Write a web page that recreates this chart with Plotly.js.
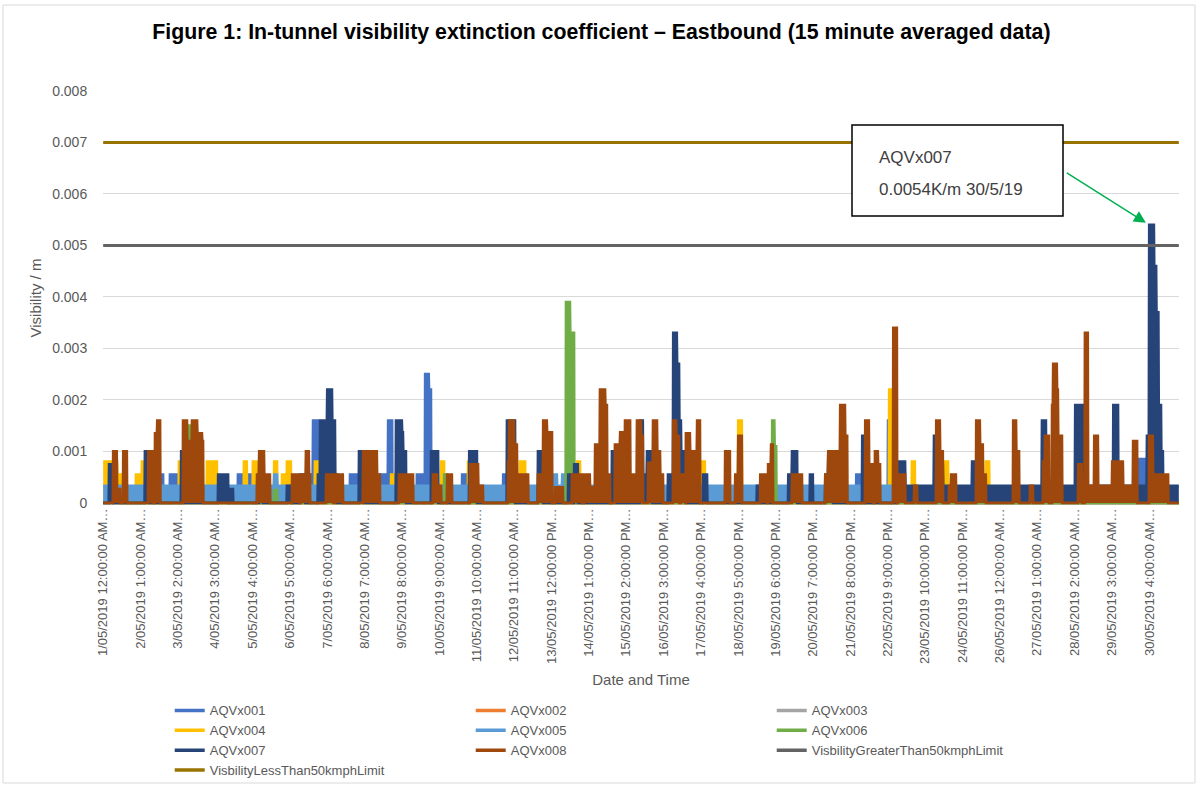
<!DOCTYPE html>
<html><head><meta charset="utf-8">
<script src="https://cdn.plot.ly/plotly-3.0.1.min.js"></script>
<style>html,body{margin:0;padding:0;background:#fff}#chart{width:1198px;height:786px}</style>
</head><body><div id="chart"></div>
<script>
// 15-minute averaged samples, 1/05/2019 00:00 onwards
const N = 2880;
const tickStep = 100;
const tickLabels = [
  "1/05/2019 12:00:00 AM","2/05/2019 1:00:00 AM","3/05/2019 2:00:00 AM","4/05/2019 3:00:00 AM",
  "5/05/2019 4:00:00 AM","6/05/2019 5:00:00 AM","7/05/2019 6:00:00 AM","8/05/2019 7:00:00 AM",
  "9/05/2019 8:00:00 AM","10/05/2019 9:00:00 AM","11/05/2019 10:00:00 AM","12/05/2019 11:00:00 AM",
  "13/05/2019 12:00:00 PM","14/05/2019 1:00:00 PM","15/05/2019 2:00:00 PM","16/05/2019 3:00:00 PM",
  "17/05/2019 4:00:00 PM","18/05/2019 5:00:00 PM","19/05/2019 6:00:00 PM","20/05/2019 7:00:00 PM",
  "21/05/2019 8:00:00 PM","22/05/2019 9:00:00 PM","23/05/2019 10:00:00 PM","24/05/2019 11:00:00 PM",
  "26/05/2019 12:00:00 AM","27/05/2019 1:00:00 AM","28/05/2019 2:00:00 AM","29/05/2019 3:00:00 AM",
  "30/05/2019 4:00:00 AM"
];

const seriesNames = ["AQVx001","AQVx002","AQVx003","AQVx004","AQVx005","AQVx006","AQVx007","AQVx008"];
const seriesColors = ["#4472C4","#ED7D31","#A5A5A5","#FFC000","#5B9BD5","#70AD47","#264478","#9E480E"];

// readings as [startSample, endSample, value] (value held over the run, 0 elsewhere)
const aqv001 = [[153,161,0.00055],[179,206,0.00055],[361,372,0.00055],[388,401,0.00055],[412,420,0.00055],
  [555,562,0.00055],[562,575,0.0016],[661,707,0.00055],[741,763,0.00055],[763,774,0.0016],[840,857,0.00055],
  [862,872,0.0025],[872,878,0.0022],[961,977,0.00055],[1071,1081,0.00055],[2016,2032,0.00055],
  [2101,2107,0.0016],[2770,2794,0.00085]];
const aqv002 = [];
const aqv003 = [];
const aqv004 = [[0,38,0.0008],[38,54,0.00055],[88,102,0.00055],[104,112,0.0008],[131,139,0.0008],[203,209,0.0008],
  [278,292,0.0008],[294,305,0.0008],[377,385,0.0008],[401,412,0.0008],[458,466,0.0008],[479,490,0.00055],
  [492,503,0.0008],[567,581,0.0008],[771,779,0.00055],[905,913,0.0008],[977,982,0.0008],[1116,1130,0.0008],
  [1269,1277,0.0008],[1603,1611,0.0008],[1700,1710,0.0016],[2104,2112,0.0022],[2165,2173,0.0008],
  [2243,2249,0.0008],[2254,2262,0.0008],[2363,2372,0.0008]];
const aqv005 = [[0,2147,0.00033],[458,466,0.00055],[1204,1215,0.00055],[1229,1239,0.00055]];
const aqv006 = [[225,236,0.0015],[458,466,0.00025],[913,921,0.00055],[1239,1250,0.0039],[1250,1261,0.0033],
  [1791,1797,0.0016],[1797,1802,0.0011]];
const aqv007 = [[16,27,0.00075],[112,126,0.001],[209,217,0.001],[308,335,0.00055],[340,348,0.00027],[418,428,0.001],
  [492,506,0.00033],[527,541,0.00055],[575,581,0.00055],[581,600,0.0016],[600,613,0.0022],[613,621,0.0016],
  [621,627,0.00055],[685,700,0.001],[784,800,0.0016],[800,803,0.00137],[803,811,0.001],[878,897,0.001],
  [980,1001,0.001],[1081,1103,0.0016],[1164,1178,0.001],[1245,1255,0.00055],[1261,1271,0.00075],
  [1362,1376,0.001],[1437,1445,0.0016],[1445,1456,0.00055],[1456,1469,0.001],[1512,1526,0.00055],
  [1526,1536,0.0033],[1536,1542,0.0027],[1542,1547,0.0016],[1547,1558,0.001],[1558,1563,0.00055],
  [1606,1617,0.00055],[1750,1759,0.00033],[1834,1844,0.00055],[1844,1858,0.001],[1892,1900,0.00055],
  [1933,1941,0.00055],[1941,1954,0.001],[2032,2040,0.0013],[2125,2147,0.0008],[2147,2880,0.00033],
  [2224,2232,0.0013],[2240,2248,0.00075],[2326,2334,0.0008],[2513,2524,0.0016],[2602,2623,0.0019],
  [2623,2628,0.0013],[2704,2717,0.0019],[2794,2800,0.0013],[2800,2813,0.0054],[2813,2819,0.0046],
  [2819,2825,0.0037],[2825,2832,0.0019],[2832,2837,0.001]];
const aqv008 = [[27,37,0.001],[37,46,0.00027],[54,64,0.001],[121,133,0.001],[139,145,0.00135],[145,153,0.0016],
  [214,268,0.0012],[214,225,0.0016],[238,252,0.0016],[252,265,0.00135],[412,447,0.00055],[418,431,0.001],
  [506,527,0.00055],[530,554,0.00055],[543,551,0.001],[597,616,0.00055],[621,642,0.00055],[696,733,0.001],
  [733,741,0.00055],[792,830,0.00055],[883,894,0.00055],[894,905,0.00033],[921,934,0.00055],[982,1004,0.00075],
  [1004,1017,0.00033],[1084,1087,0.0008],[1087,1100,0.0016],[1100,1108,0.00113],[1108,1138,0.00055],
  [1164,1178,0.00055],[1178,1188,0.0016],[1188,1202,0.00137],[1210,1231,0.0003],[1255,1283,0.00055],
  [1287,1303,0.00055],[1303,1317,0.0003],[1317,1330,0.00113],[1330,1344,0.0022],[1344,1349,0.0019],
  [1349,1357,0.00055],[1370,1384,0.00113],[1384,1392,0.00137],[1392,1397,0.0008],[1397,1411,0.0016],
  [1411,1429,0.00055],[1429,1440,0.0016],[1440,1445,0.0013],[1459,1472,0.00078],[1472,1483,0.0016],
  [1483,1491,0.001],[1491,1499,0.00055],[1526,1534,0.0016],[1534,1542,0.0013],[1547,1558,0.00055],
  [1560,1571,0.00135],[1571,1590,0.001],[1590,1598,0.0016],[1665,1678,0.001],[1692,1700,0.00055],
  [1700,1710,0.0013],[1759,1777,0.00055],[1780,1788,0.00075],[1788,1793,0.00113],[1844,1871,0.00055],
  [1933,1941,0.00055],[1941,1973,0.001],[1973,1986,0.0019],[1986,1992,0.0013],[2040,2050,0.0016],
  [2050,2061,0.00075],[2066,2074,0.001],[2074,2080,0.00075],[2115,2125,0.0034],[2128,2147,0.00055],
  [2171,2179,0.00033],[2230,2240,0.0016],[2240,2248,0.001],[2264,2270,0.00033],[2270,2283,0.00055],
  [2337,2347,0.0016],[2347,2355,0.00113],[2355,2363,0.00055],[2436,2444,0.0016],[2444,2452,0.001],
  [2481,2489,0.00033],[2516,2521,0.0008],[2521,2532,0.0013],[2540,2543,0.0019],[2543,2553,0.0027],
  [2553,2556,0.0022],[2556,2567,0.0013],[2610,2620,0.00075],[2628,2636,0.0033],[2636,2768,0.00033],
  [2653,2663,0.0013],[2701,2730,0.0008],[2757,2768,0.0012],[2800,2810,0.0013],[2810,2851,0.00055]];

const limitGreaterName = "VisbilityGreaterThan50kmphLimit";
const limitLessName = "VisbilityLessThan50kmphLimit";
const limitGreaterValue = 0.005;
const limitLessValue = 0.007;
const limitGreaterColor = "#636363";
const limitLessColor = "#997300";

const allSeries = [aqv001,aqv002,aqv003,aqv004,aqv005,aqv006,aqv007,aqv008];

function expand(segs){
  const y = new Array(N).fill(0);
  segs.forEach(([s,e,v]) => { for(let i=s;i<e && i<N;i++) y[i]=v; });
  return y;
}
const xs = Array.from({length:N},(_,i)=>i);

const traces = [];
allSeries.forEach((segs,k)=>{
  traces.push({type:'scatter',mode:'lines',x:xs,y:expand(segs),name:seriesNames[k],
    line:{color:seriesColors[k],width:2.8},fill:'tozeroy',fillcolor:seriesColors[k],
    showlegend:false,hoverinfo:'skip'});
});
traces.push({type:'scatter',mode:'lines',x:xs,y:xs.map(()=>limitGreaterValue),name:limitGreaterName,
  line:{color:limitGreaterColor,width:3},showlegend:false,hoverinfo:'skip'});
traces.push({type:'scatter',mode:'lines',x:xs,y:xs.map(()=>limitLessValue),name:limitLessName,
  line:{color:limitLessColor,width:3},showlegend:false,hoverinfo:'skip'});
// legend entries (line keys only)
const legNames = seriesNames.concat([limitGreaterName,limitLessName]);
const legColors = seriesColors.concat([limitGreaterColor,limitLessColor]);
legNames.forEach((n,k)=>{
  traces.push({type:'scatter',mode:'lines',x:[null],y:[null],name:n,line:{color:legColors[k],width:3.5},showlegend:true,hoverinfo:'skip'});
});

// peak of AQVx007 for the callout arrow
const y007 = expand(aqv007);
let peakIdx = 0; y007.forEach((v,i)=>{ if(v>y007[peakIdx]) peakIdx=i; });
const peakVal = y007[peakIdx];

const F = "Liberation Sans, Arial, sans-serif";
const grey = "#595959";
const yMin = -0.00004, yMax = 0.008;

const layout = {
  width:1198, height:786,
  margin:{l:103,r:19,t:91,b:281,autoexpand:false},
  paper_bgcolor:'#fff', plot_bgcolor:'#fff',
  font:{family:F,color:grey},
  title:{text:"<b>Figure 1: In-tunnel visibility extinction coefficient – Eastbound (15 minute averaged data)</b>",
    font:{family:F,size:21.3,color:'#000'},x:0.502,xref:'container',y:1-32/786,yanchor:'middle'},
  xaxis:{range:[-0.5,N-0.5],tickmode:'array',tickvals:tickLabels.map((_,i)=>i*tickStep),
    ticktext:tickLabels.map(t=>t+"…"),tickangle:-90,tickfont:{family:F,size:13,color:grey},
    showgrid:false,zeroline:false,showline:false,ticks:'',automargin:false,
    title:{text:"Date and Time",font:{family:F,size:15,color:grey},standoff:11}},
  yaxis:{range:[yMin,yMax],tick0:0,dtick:0.001,showgrid:true,gridcolor:'#d9d9d9',gridwidth:1,zeroline:false,
    showline:false,ticks:'outside',ticklen:12,tickcolor:'rgba(0,0,0,0)',tickfont:{family:F,size:14,color:grey},
    automargin:false,title:{text:"Visibility / m",font:{family:F,size:15,color:grey},standoff:6}},
  showlegend:true,
  legend:{orientation:'h',x:0.062,xanchor:'left',y:-0.46,yanchor:'top',entrywidth:256,entrywidthmode:'pixels',
    font:{family:F,size:13,color:grey},traceorder:'normal',bgcolor:'rgba(0,0,0,0)'},
  shapes:[
    {type:'rect',xref:'paper',yref:'paper',x0:(3-103)/1076,x1:(1195-103)/1076,y0:(505-783)/414,y1:(505-5)/414,
      line:{color:'#d9d9d9',width:1},fillcolor:'rgba(0,0,0,0)',layer:'below'},
    {type:'rect',xref:'paper',yref:'paper',x0:(852-103)/1076,x1:(1063-103)/1076,y0:(505-216)/414,y1:(505-125)/414,
      line:{color:'#000',width:1.5},fillcolor:'#fff',layer:'above'}
  ],
  annotations:[
    {xref:'paper',yref:'paper',x:(877-103)/1076,y:(505-157)/414,xanchor:'left',yanchor:'middle',showarrow:false,
      text:"AQVx007",font:{family:F,size:17,color:'#404040'}},
    {xref:'paper',yref:'paper',x:(877-103)/1076,y:(505-189)/414,xanchor:'left',yanchor:'middle',showarrow:false,
      text:"0.0054K/m 30/5/19",font:{family:F,size:17,color:'#404040'}},
    {x:peakIdx,y:peakVal,xref:'x',yref:'y',text:'',showarrow:true,ax:-84,ay:-53,arrowhead:2,arrowsize:1.6,
      arrowwidth:1.5,arrowcolor:'#00B050',standoff:4}
  ]
};
Plotly.newPlot('chart',traces,layout,{staticPlot:true,displayModeBar:false});
</script></body></html>
